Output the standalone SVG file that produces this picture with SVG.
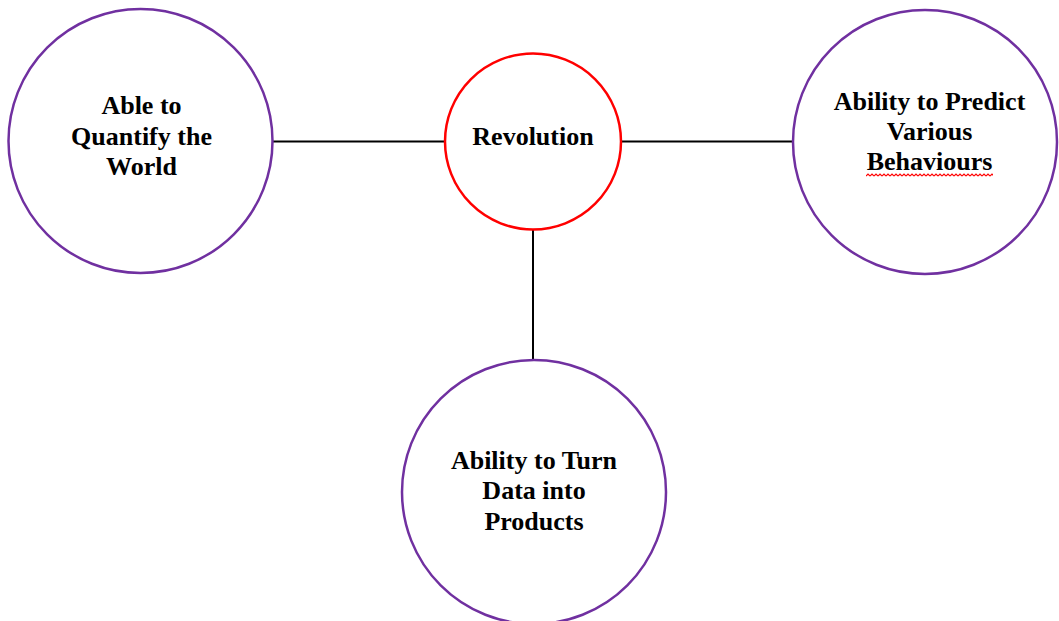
<svg xmlns="http://www.w3.org/2000/svg" width="1059" height="621" viewBox="0 0 1059 621">
  <style>
    .node { fill: #ffffff; stroke: #7030a0; stroke-width: 2.5; }
    .hub { fill: #ffffff; stroke: #ff0000; stroke-width: 2.5; }
    .label { font-family: "Liberation Serif", "Times New Roman", serif; font-weight: bold; font-size: 26px; fill: #000000; text-anchor: middle; }
    .link { stroke: #000000; stroke-width: 2; fill: none; }
    .squiggle { stroke: #ff0000; stroke-width: 1.2; fill: none; }
  </style>
  <defs>
    <!-- one 4px period of the wavy underline -->
    <pattern id="wave" x="866" y="173" width="4" height="4" patternUnits="userSpaceOnUse">
      <path d="M0 3 L2 1 L4 3" stroke="#ff0000" stroke-width="1.2" fill="none"/>
    </pattern>
  </defs>
  <rect width="1059" height="621" fill="#ffffff"/>

  <!-- connectors from the hub to each outer node -->
  <g id="connectors">
    <line class="link" x1="273" y1="141.5" x2="445" y2="141.5"/>
    <line class="link" x1="621" y1="141.5" x2="793" y2="141.5"/>
    <line class="link" x1="533" y1="230" x2="533" y2="360"/>
  </g>

  <g id="node-quantify">
    <circle class="node" cx="140.5" cy="141" r="132"/>
    <text class="label" x="141.5" y="114">Able to</text>
    <text class="label" x="141.5" y="145">Quantify the</text>
    <text class="label" x="141.5" y="175">World</text>
  </g>

  <g id="node-revolution">
    <circle class="hub" cx="533" cy="141.5" r="88"/>
    <text class="label" x="533" y="145">Revolution</text>
  </g>

  <g id="node-predict">
    <circle class="node" cx="925" cy="142" r="132"/>
    <text class="label" x="929.5" y="110">Ability to Predict</text>
    <text class="label" x="929.5" y="140">Various</text>
    <text class="label" x="929.5" y="170">Behaviours</text>
    <!-- spell-check style wavy underline -->
    <rect x="866" y="173" width="127" height="4" fill="url(#wave)"/>
  </g>

  <g id="node-products">
    <circle class="node" cx="534" cy="492" r="132"/>
    <text class="label" x="534" y="469">Ability to Turn</text>
    <text class="label" x="534" y="499">Data into</text>
    <text class="label" x="534" y="530">Products</text>
  </g>
</svg>
